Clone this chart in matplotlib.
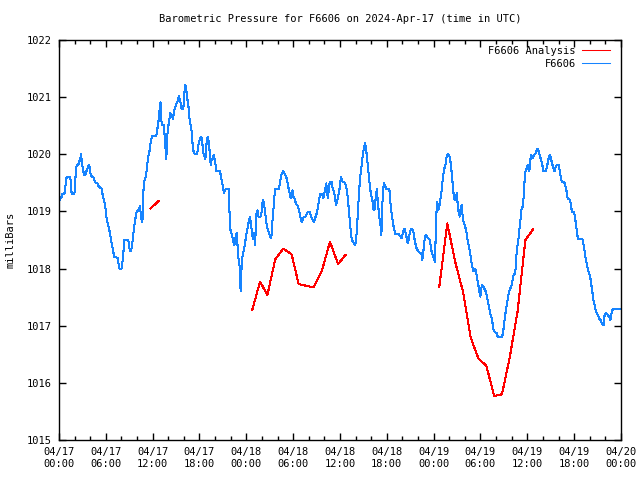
import numpy as np
import pandas as pd
import matplotlib
matplotlib.use("Agg")
import matplotlib.pyplot as plt
import matplotlib.dates as mdates

# station pressure, minutes after 2024-04-17 00:00 UTC
blue_minutes = [
    8, 21, 26, 41, 46, 54, 59, 85, 92, 97, 118, 123, 128, 136, 149, 154, 162, 169, 177, 185,
    195, 205, 213, 226, 233, 238, 246, 264, 277, 295, 307, 328, 336, 346, 354, 359, 366, 379,
    387, 397, 405, 418, 423, 451, 456, 464, 482, 489, 497, 502, 533, 541, 551, 559, 571, 579,
    589, 597, 610, 623, 630, 641, 648, 656, 666, 674,
    684, 689, 697, 704, 715, 748, 756, 766, 774, 781, 786, 794, 807, 812, 820, 825, 830, 838,
    845, 856, 863, 876, 884, 894, 904, 915, 922, 933, 940, 956, 961, 966, 971, 979, 986, 997,
    1004, 1012, 1020, 1025, 1032, 1043, 1061, 1068, 1076, 1086, 1094, 1102, 1107, 1114, 1125,
    1130, 1135, 1143, 1150, 1158, 1166, 1173, 1181, 1189, 1194, 1202, 1209, 1235, 1243, 1250,
    1258, 1268, 1276, 1286, 1304, 1312, 1319, 1330, 1340, 1348, 1358, 1366, 1371, 1378, 1389,
    1394, 1396,
    1404, 1412, 1419, 1430, 1437, 1445, 1453, 1460, 1468, 1476, 1484, 1491, 1496, 1501, 1507,
    1512, 1519, 1527, 1532, 1548, 1558, 1566, 1573, 1583, 1591, 1599, 1604, 1614, 1622, 1630,
    1637, 1642, 1650, 1658, 1665, 1691, 1699, 1706, 1714, 1724, 1732, 1740, 1750, 1758, 1765,
    1773, 1781, 1788, 1794, 1801, 1809, 1817, 1824, 1835, 1842, 1850, 1858, 1865, 1873, 1881,
    1896, 1904, 1911, 1927, 1934, 1942, 1952, 1960, 1968, 1978, 1986, 1993, 2001, 2009, 2024,
    2032, 2040, 2047, 2055, 2060, 2068, 2075, 2083, 2096, 2104,
    2114, 2122, 2129, 2137, 2145, 2152, 2160, 2168, 2173, 2181, 2191, 2199, 2206, 2214, 2222,
    2229, 2237, 2245, 2252, 2260, 2268, 2275, 2283, 2291, 2298, 2306, 2314, 2322, 2329, 2337,
    2345, 2352, 2360, 2368, 2375, 2383, 2391, 2398, 2406, 2411, 2416, 2424, 2429, 2437, 2444,
    2450, 2457, 2465, 2473, 2478, 2485, 2493, 2498, 2506, 2514, 2539, 2547, 2555, 2562, 2570,
    2578, 2585, 2611, 2619, 2626, 2634, 2642, 2649, 2657, 2665, 2673, 2680, 2688, 2696, 2703,
    2711, 2719, 2726, 2734, 2742, 2749, 2757, 2765, 2772, 2780, 2788, 2793, 2798, 2806, 2813,
    2821,
    2829, 2836, 2849, 2857, 2864, 2872, 2880, 2890, 2893, 2900, 2908, 2916, 2923, 2931, 2939,
    2946, 2954, 2962, 2970, 2977, 2987, 2998, 3005, 3013, 3021, 3028, 3036, 3044, 3052, 3059,
    3064, 3072, 3080, 3087, 3095, 3103, 3110, 3118, 3126, 3133, 3141, 3149, 3157, 3164, 3172,
    3180, 3187, 3195, 3203, 3210, 3218, 3226, 3233, 3239, 3246, 3254, 3262, 3269, 3280, 3287,
    3295, 3303, 3310, 3318, 3326, 3333, 3341, 3349, 3356, 3364, 3372, 3379, 3405, 3413, 3420,
    3428, 3438, 3446, 3454, 3461, 3469, 3479, 3487, 3495, 3500, 3505, 3510, 3515, 3523, 3531,
    3538, 3546,
    3549, 3556, 3564, 3572, 3579, 3587, 3595, 3602, 3610, 3615, 3623, 3631, 3638, 3646, 3654,
    3664, 3672, 3679, 3687, 3695, 3702, 3710, 3718, 3725, 3741, 3748, 3756, 3764, 3771, 3779,
    3787, 3794, 3802, 3810, 3818, 3825, 3841, 3848, 3856, 3864, 3879, 3887, 3894, 3902, 3910,
    3928, 3935, 3943, 3958, 3966, 3974, 3981, 3989, 4025, 4033, 4040, 4048, 4056, 4064, 4071,
    4079, 4087, 4094, 4102, 4110, 4117, 4125, 4133, 4140, 4148, 4156, 4163, 4171, 4179, 4187,
    4194, 4202, 4215, 4222, 4230, 4238, 4245, 4253, 4261, 4318,
]
blue_mb = [
    1019.21, 1019.26, 1019.30, 1019.30, 1019.40, 1019.51, 1019.61, 1019.61, 1019.50, 1019.30,
    1019.30, 1019.43, 1019.66, 1019.81, 1019.82, 1019.87, 1019.90, 1020.00, 1019.85, 1019.72,
    1019.63, 1019.66, 1019.72, 1019.80, 1019.82, 1019.70, 1019.62, 1019.60, 1019.51, 1019.49,
    1019.43, 1019.40, 1019.28, 1019.19, 1019.13, 1019.02, 1018.87, 1018.75, 1018.67, 1018.55,
    1018.43, 1018.29, 1018.20, 1018.19, 1018.10, 1018.00, 1018.00, 1018.14, 1018.34, 1018.50,
    1018.50, 1018.36, 1018.30, 1018.36, 1018.60, 1018.75, 1018.90, 1019.00, 1019.02, 1019.09,
    1018.90, 1018.81, 1019.34, 1019.54, 1019.60, 1019.72,
    1019.93, 1019.99, 1020.07, 1020.20, 1020.32, 1020.32, 1020.45, 1020.60, 1020.80, 1020.91,
    1020.60, 1020.51, 1020.51, 1020.31, 1020.07, 1019.91, 1020.28, 1020.45, 1020.57, 1020.72,
    1020.69, 1020.62, 1020.75, 1020.83, 1020.89, 1020.95, 1021.02, 1020.92, 1020.80, 1020.80,
    1021.01, 1021.12, 1021.21, 1021.12, 1020.98, 1020.80, 1020.60, 1020.51, 1020.40, 1020.22,
    1020.07, 1020.00, 1020.00, 1020.10, 1020.22, 1020.28, 1020.31, 1020.19, 1020.05, 1019.99,
    1019.91, 1020.07, 1020.22, 1020.31, 1020.22, 1020.05, 1019.81, 1019.90, 1019.93, 1019.99,
    1019.93, 1019.84, 1019.71, 1019.71, 1019.64, 1019.55, 1019.46, 1019.32, 1019.37, 1019.40,
    1019.40, 1018.91, 1018.65, 1018.59, 1018.47, 1018.41, 1018.56, 1018.62, 1018.44, 1018.21,
    1018.03, 1017.77, 1017.60,
    1018.06, 1018.24, 1018.30, 1018.44, 1018.56, 1018.67, 1018.73, 1018.86, 1018.90, 1018.76,
    1018.62, 1018.51, 1018.63, 1018.56, 1018.41, 1018.67, 1018.99, 1019.02, 1018.91, 1018.90,
    1018.99, 1019.20, 1019.17, 1019.02, 1018.85, 1018.72, 1018.69, 1018.63, 1018.57, 1018.53,
    1018.65, 1018.88, 1019.08, 1019.32, 1019.40, 1019.40, 1019.50, 1019.61, 1019.67, 1019.71,
    1019.67, 1019.64, 1019.58, 1019.49, 1019.40, 1019.32, 1019.23, 1019.32, 1019.37, 1019.26,
    1019.23, 1019.17, 1019.13, 1019.10, 1019.04, 1018.97, 1018.88, 1018.82, 1018.85, 1018.90,
    1018.91, 1018.95, 1018.99, 1018.99, 1018.94, 1018.88, 1018.85, 1018.82, 1018.88, 1018.94,
    1019.02, 1019.11, 1019.23, 1019.30, 1019.30, 1019.23, 1019.32, 1019.40, 1019.49, 1019.32,
    1019.23, 1019.43, 1019.52, 1019.52, 1019.40,
    1019.35, 1019.23, 1019.11, 1019.17, 1019.26, 1019.32, 1019.46, 1019.61, 1019.55, 1019.52,
    1019.52, 1019.49, 1019.46, 1019.35, 1019.20, 1018.99, 1018.79, 1018.59, 1018.50, 1018.47,
    1018.44, 1018.41, 1018.47, 1018.73, 1019.02, 1019.32, 1019.58, 1019.72, 1019.87, 1020.02,
    1020.13, 1020.19, 1020.10, 1019.93, 1019.78, 1019.58, 1019.43, 1019.29, 1019.23, 1019.17,
    1019.05, 1019.02, 1019.11, 1019.29, 1019.40, 1019.17, 1019.02, 1018.85, 1018.73, 1018.59,
    1019.11, 1019.40, 1019.49, 1019.46, 1019.40, 1019.40, 1019.17, 1018.99, 1018.88, 1018.76,
    1018.67, 1018.60, 1018.60, 1018.57, 1018.56, 1018.53, 1018.62, 1018.67, 1018.70, 1018.62,
    1018.53, 1018.44, 1018.50, 1018.62, 1018.67, 1018.70, 1018.67, 1018.62, 1018.50, 1018.41,
    1018.35, 1018.32, 1018.30, 1018.28, 1018.28, 1018.24, 1018.15, 1018.24, 1018.41, 1018.56,
    1018.59,
    1018.56, 1018.53, 1018.51, 1018.41, 1018.30, 1018.24, 1018.18, 1018.12, 1018.38, 1018.94,
    1019.17, 1019.02, 1019.08, 1019.20, 1019.32, 1019.49, 1019.64, 1019.75, 1019.81, 1019.93,
    1020.00, 1019.99, 1019.93, 1019.81, 1019.61, 1019.43, 1019.23, 1019.20, 1019.26, 1019.32,
    1019.14, 1018.99, 1018.91, 1019.05, 1019.11, 1018.91, 1018.82, 1018.76, 1018.70, 1018.62,
    1018.50, 1018.41, 1018.32, 1018.21, 1018.09, 1018.00, 1017.95, 1018.00, 1017.97, 1017.89,
    1017.77, 1017.68, 1017.57, 1017.51, 1017.65, 1017.71, 1017.68, 1017.65, 1017.60, 1017.54,
    1017.45, 1017.36, 1017.27, 1017.19, 1017.13, 1017.04, 1016.92, 1016.90, 1016.88, 1016.87,
    1016.81, 1016.80, 1016.80, 1016.87, 1017.01, 1017.16, 1017.30, 1017.42, 1017.54, 1017.60,
    1017.65, 1017.71, 1017.80, 1017.89, 1017.90, 1017.92, 1018.00, 1018.21, 1018.38, 1018.50,
    1018.67, 1018.85,
    1018.88, 1019.05, 1019.08, 1019.26, 1019.55, 1019.72, 1019.75, 1019.81, 1019.75, 1019.70,
    1019.90, 1019.99, 1019.93, 1019.96, 1019.99, 1020.02, 1020.07, 1020.10, 1020.05, 1019.99,
    1019.93, 1019.87, 1019.78, 1019.70, 1019.70, 1019.75, 1019.84, 1019.93, 1019.99, 1019.96,
    1019.87, 1019.81, 1019.75, 1019.70, 1019.78, 1019.81, 1019.81, 1019.72, 1019.61, 1019.52,
    1019.52, 1019.49, 1019.43, 1019.35, 1019.23, 1019.20, 1019.11, 1018.99, 1018.99, 1018.91,
    1018.76, 1018.65, 1018.51, 1018.51, 1018.41, 1018.30, 1018.18, 1018.09, 1018.00, 1017.95,
    1017.89, 1017.80, 1017.68, 1017.54, 1017.42, 1017.36, 1017.27, 1017.22, 1017.19, 1017.16,
    1017.11, 1017.10, 1017.05, 1017.01, 1017.01, 1017.19, 1017.22, 1017.20, 1017.17, 1017.16,
    1017.10, 1017.19, 1017.27, 1017.30, 1017.30,
]

# analysis, hourly; nan marks the gaps
red_minutes = [702, 765, 766,
               1485, 1545, 1602, 1662, 1725, 1788, 1842, 1899, 1956, 2022, 2083, 2145, 2203, 2204,
               2923, 2985, 3045, 3105, 3165, 3225, 3285, 3345, 3405, 3465, 3525, 3585, 3645]
red_mb = [1019.05, 1019.18, np.nan,
          1017.27, 1017.77, 1017.54, 1018.16, 1018.35, 1018.25, 1017.73, 1017.70, 1017.67,
          1017.97, 1018.47, 1018.08, 1018.24, np.nan,
          1017.68, 1018.79, 1018.12, 1017.60, 1016.79, 1016.42, 1016.30, 1015.77, 1015.80,
          1016.45, 1017.25, 1018.50, 1018.69]

start = pd.Timestamp("2024-04-17 00:00")
blue_t = start + pd.to_timedelta(blue_minutes, unit="min")
red_t = start + pd.to_timedelta(red_minutes, unit="min")

plt.rcParams["font.family"] = ["DejaVu Sans Mono"]
plt.rcParams["font.size"] = 7.5

fig = plt.figure(figsize=(6.4, 4.8), dpi=100)
ax = fig.add_axes([59 / 640, 40 / 480, 562 / 640, 400 / 480])

ax.plot(red_t, red_mb, color="#ff0000", lw=0.75, label="F6606 Analysis", antialiased=False)
ax.plot(blue_t, blue_mb, color="#1684ff", lw=0.75, label="F6606", antialiased=False)

ax.set_xlim(start, start + pd.Timedelta(hours=72))
ax.set_ylim(1015, 1022)
ax.set_yticks(range(1015, 1023))

ax.xaxis.set_major_locator(mdates.HourLocator(byhour=range(0, 24, 6)))
ax.xaxis.set_minor_locator(mdates.HourLocator(byhour=range(0, 24, 2)))
ax.xaxis.set_major_formatter(mdates.DateFormatter("%m/%d\n%H:%M"))

ax.tick_params(which="both", direction="in", top=True, right=True, color="black", width=1)
ax.tick_params(which="major", length=5, pad=5)
ax.tick_params(which="minor", length=3)
for s in ax.spines.values():
    s.set_linewidth(1)
    s.set_color("black")

ax.set_ylabel("milliBars")
ax.yaxis.set_label_coords(-43 / 562, 0.5)

fig.text(340 / 640, 1 - 19 / 480, "Barometric Pressure for F6606 on 2024-Apr-17 (time in UTC)",
         ha="center", va="center")

ax.legend(loc="upper right", bbox_to_anchor=(551 / 562, 0.985), frameon=False,
          markerfirst=False, handlelength=2.7, handletextpad=0.6, labelspacing=0.25,
          borderpad=0, borderaxespad=0)

fig.savefig("out.png", dpi=100)
